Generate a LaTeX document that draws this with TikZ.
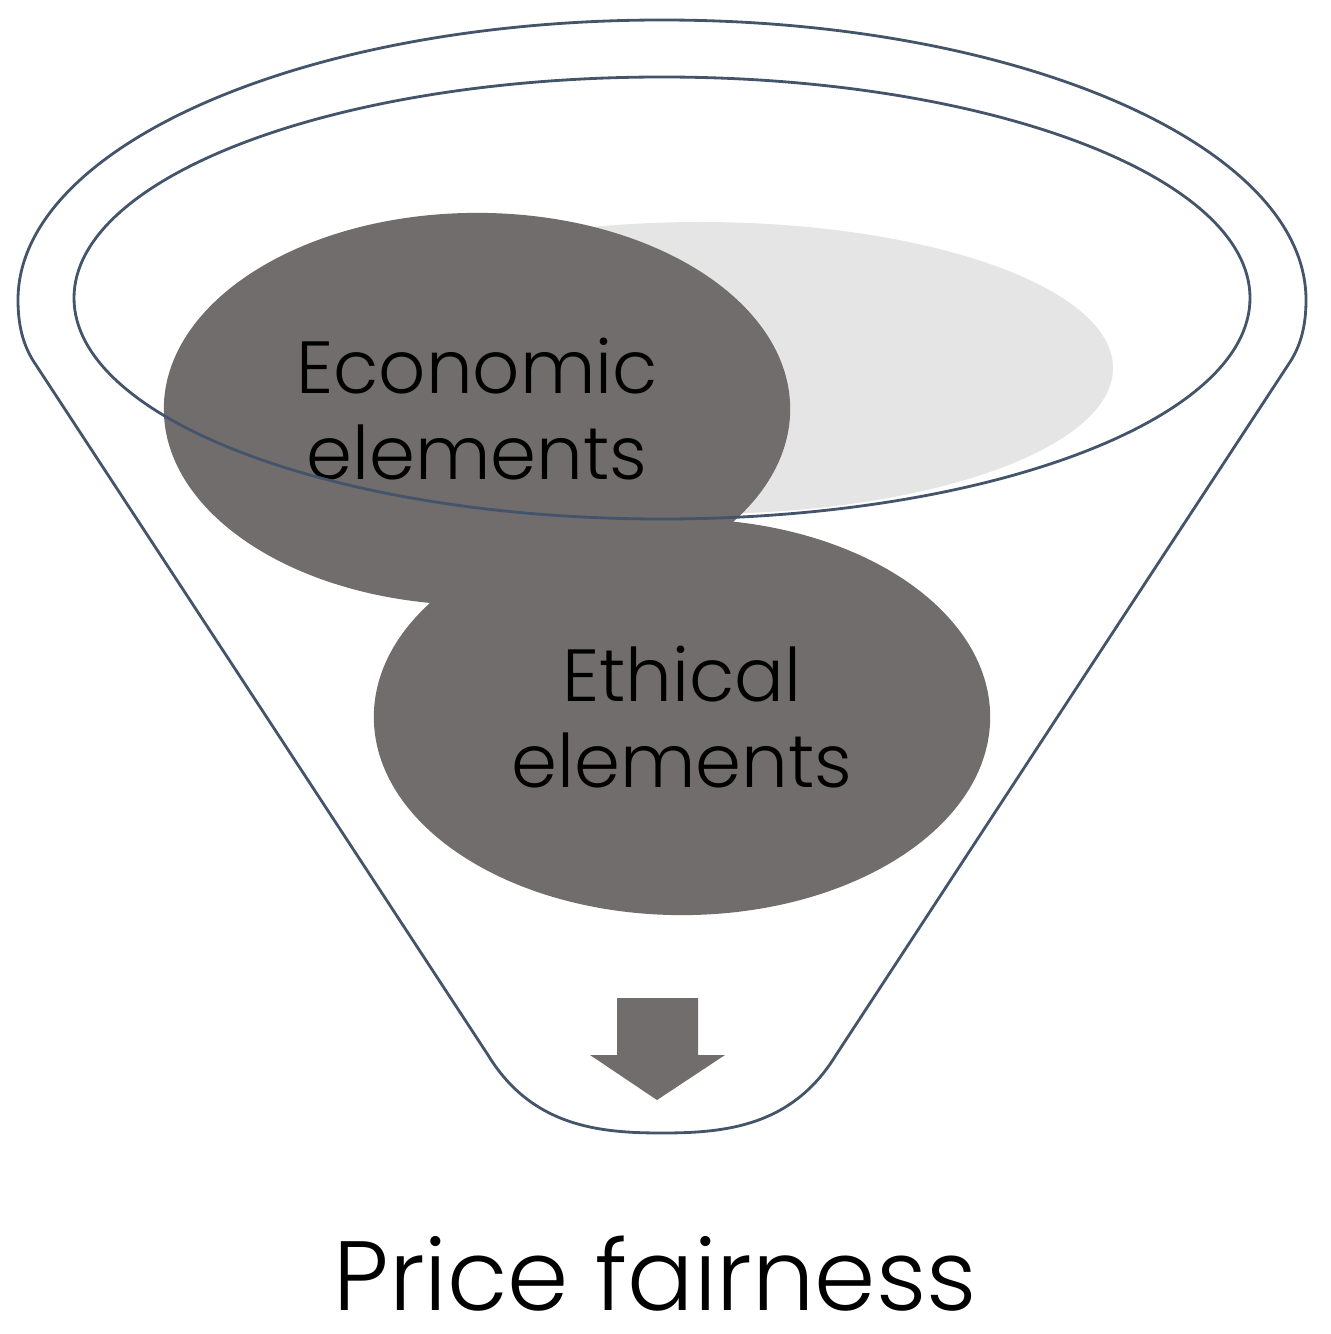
\documentclass[tikz,border=0pt]{standalone}
\usepackage{fontspec}
\setmainfont{Poppins}[UprightFont=* Light]
\usetikzlibrary{shapes.geometric}
\definecolor{funnelblue}{HTML}{44546A}
\definecolor{bubblegray}{HTML}{716D6C}
\definecolor{palegray}{HTML}{E5E5E5}
\begin{document}
\begin{tikzpicture}[x=0.01cm, y=-0.01cm]
\tikzset{funnelline/.style={draw=funnelblue, line width=0.8pt},
  bubble/.style={ellipse, fill=bubblegray, inner sep=0pt, align=center,
    font=\fontsize{21}{24.5}\selectfont}}
\useasboundingbox (0,0) rectangle (1331,1334);
\fill[palegray] (700,368) ellipse [x radius=413, y radius=146];
\node[bubble, minimum width=6.26cm, minimum height=3.92cm] (econ) at (477,409) {Economic\\elements};
\node[bubble, minimum width=6.16cm, minimum height=3.96cm] (ethic) at (682,717) {Ethical\\elements};
\draw[funnelline] (662,298) ellipse [x radius=588, y radius=221];
\draw[funnelline] (18,300) arc[start angle=180, end angle=360, x radius=644, y radius=280]
  .. controls (1306,325) and (1301,345) .. (1290,362) -- (836,1055)
  .. controls (792,1127) and (724,1133) .. (662,1133)
  .. controls (600,1133) and (532,1127) .. (488,1055) -- (34,362)
  .. controls (23,345) and (18,325) .. (18,300);
\fill[bubblegray] (617,998) -- (698,998) -- (698,1055) -- (725,1055) -- (657,1100)
  -- (590,1055) -- (617,1055) -- cycle;
\node[anchor=base, inner sep=0pt, font=\fontsize{28}{32}\selectfont] (fair) at (655,1310) {Price fairness};
\end{tikzpicture}
\end{document}
